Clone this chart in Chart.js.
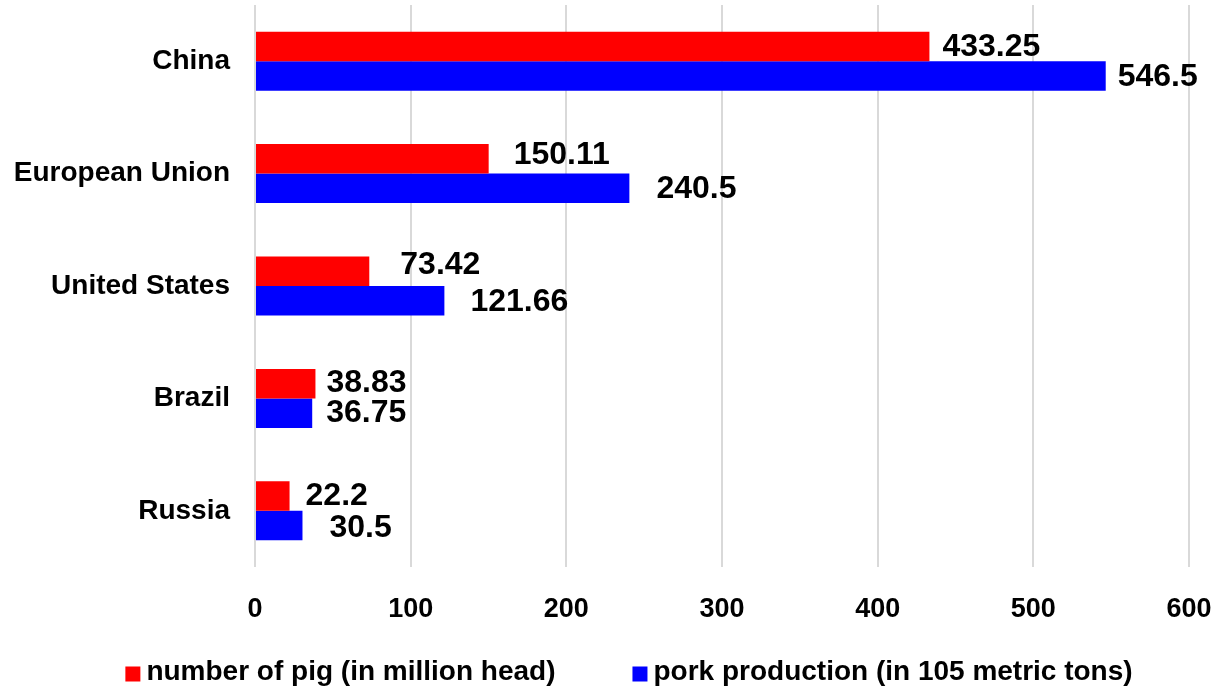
<!DOCTYPE html>
<html>
<head>
<meta charset="utf-8">
<script src="https://cdn.jsdelivr.net/npm/chart.js@4.4.1/dist/chart.umd.min.js"></script>
<style>
html,body{margin:0;padding:0;background:#fff;}
#wrap{width:1216px;height:691px;position:relative;}
</style>
</head>
<body>
<div id="wrap"><canvas id="c" width="1216" height="691"></canvas></div>
<script>
const categories = ["China", "European Union", "United States", "Brazil", "Russia"];
const pigNumbers = [433.25, 150.11, 73.42, 38.83, 22.2];
const porkProduction = [546.5, 240.5, 121.66, 36.75, 30.5];
const seriesNames = ["number of pig (in million head)", "pork production (in 105 metric tons)"];
const xTicks = [0, 100, 200, 300, 400, 500, 600];

const FONT = "'Liberation Sans', Arial, sans-serif";

const valueLabels = {
  id: 'valueLabels',
  afterDatasetsDraw(chart, args, opts) {
    const ctx = chart.ctx;
    ctx.save();
    ctx.font = 'bold 32px ' + FONT;
    ctx.fillStyle = '#000';
    ctx.textAlign = 'left';
    ctx.textBaseline = 'middle';
    chart.data.datasets.forEach((ds, di) => {
      const meta = chart.getDatasetMeta(di);
      meta.data.forEach((bar, i) => {
        const dx = opts.dx[di][i], dy = opts.dy[di][i];
        ctx.fillText(String(ds.data[i]), bar.x + dx, bar.y + dy);
      });
    });
    ctx.restore();
  }
};

const bottomLegend = {
  id: 'bottomLegend',
  afterDraw(chart, args, opts) {
    const ctx = chart.ctx;
    ctx.save();
    ctx.font = 'bold ' + opts.size + 'px ' + FONT;
    ctx.textBaseline = 'middle';
    ctx.textAlign = 'left';
    const items = chart.data.datasets.map(ds => ({ text: ds.label, color: ds.backgroundColor, w: ctx.measureText(ds.label).width }));
    let total = 0;
    items.forEach((it, i) => { total += opts.box + opts.gap + it.w + (i < items.length - 1 ? opts.spacing : 0); });
    let x = opts.centerX - total / 2;
    items.forEach(it => {
      ctx.fillStyle = it.color;
      ctx.fillRect(x, opts.y - opts.box / 2, opts.box, opts.box);
      ctx.fillStyle = '#000';
      ctx.fillText(it.text, x + opts.box + opts.gap, opts.y - 2);
      x += opts.box + opts.gap + it.w + opts.spacing;
    });
    ctx.restore();
  }
};

new Chart(document.getElementById('c'), {
  type: 'bar',
  data: {
    labels: categories,
    datasets: [
      { label: seriesNames[0], data: pigNumbers, backgroundColor: '#ff0000', borderWidth: 0,
        categoryPercentage: 0.525, barPercentage: 1.0 },
      { label: seriesNames[1], data: porkProduction, backgroundColor: '#0000ff', borderWidth: 0,
        categoryPercentage: 0.525, barPercentage: 1.0 }
    ]
  },
  options: {
    indexAxis: 'y',
    responsive: false,
    animation: false,
    devicePixelRatio: 1,
    layout: { padding: { left: 5, right: 27, top: 5, bottom: 52 } },
    scales: {
      x: {
        min: 0, max: 600,
        afterBuildTicks(scale) { scale.ticks = xTicks.map(v => ({ value: v })); },
        grid: { color: '#d9d9d9', lineWidth: 2, drawTicks: false },
        border: { display: false },
        ticks: { color: '#000', font: { family: FONT, size: 27, weight: 'bold' }, padding: 26, maxRotation: 0 },
        afterFit(scale) { scale.height = 72; scale.paddingLeft = 0; scale.paddingRight = 0; }
      },
      y: {
        grid: { display: false, drawTicks: false },
        border: { display: false },
        ticks: { color: '#000', font: { family: FONT, size: 28, weight: 'bold' }, padding: 25 },
        afterFit(scale) { scale.width = 250; scale.paddingTop = 0; scale.paddingBottom = 0; }
      }
    },
    plugins: {
      legend: { display: false },
      tooltip: { enabled: false },
      valueLabels: {
        dx: [[13, 25, 31, 11, 16], [12, 27, 26, 14, 27]],
        dy: [[1, -4, -6, 0, 0], [1, 1, 1, 0, 3]]
      },
      bottomLegend: { size: 28, box: 15, gap: 6, spacing: 77, centerX: 629, y: 674 }
    }
  },
  plugins: [valueLabels, bottomLegend]
});
</script>
</body>
</html>
